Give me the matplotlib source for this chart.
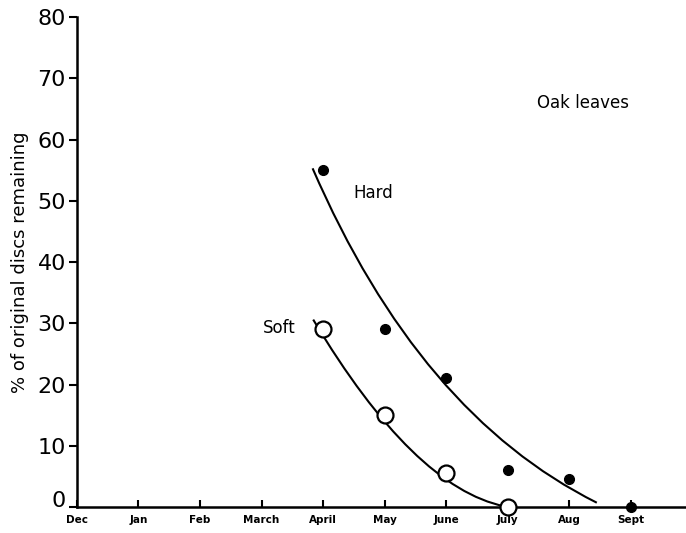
import matplotlib.pyplot as plt
from matplotlib.path import Path
from matplotlib.patches import PathPatch
from matplotlib.transforms import ScaledTranslation

months = ["Dec", "Jan", "Feb", "March", "April", "May", "June", "July", "Aug", "Sept"]

# observed points (month index, % remaining)
hard_x = [4, 5, 6, 7, 8, 9]
hard_y = [55, 29, 21, 6, 4.5, 0]
soft_x = [4, 5, 6, 7]
soft_y = [29, 15, 5.5, 0]

# hand-fitted curves: start, control, end of a quadratic bezier
hard_curve = [(3.83, 55.3), (5.56, 15.16), (8.45, 0.7)]
soft_curve = [(3.84, 30.6), (5.47, 3.2), (6.95, 0.1)]

fig = plt.figure(figsize=(6.86, 5.33), dpi=100)
ax = fig.add_axes([0.1122, 0.0488, 0.8878, 0.9192])

for pts in [hard_curve, soft_curve]:
    path = Path(pts, [Path.MOVETO, Path.CURVE3, Path.CURVE3])
    ax.add_patch(PathPatch(path, fc="none", ec="black", lw=1.5, zorder=2))

ax.plot(hard_x, hard_y, "o", color="black", ms=7, zorder=3, clip_on=False)
ax.plot(soft_x, soft_y, "o", mfc="white", mec="black", mew=1.6, ms=11.5,
        zorder=4, clip_on=False)

ax.text(4.81, 51.3, "Hard", fontsize=12, ha="center", va="center")
ax.text(3.55, 29.2, "Soft", fontsize=12, ha="right", va="center")
ax.text(8.23, 66, "Oak leaves", fontsize=12, ha="center", va="center")

ax.set_xlim(0, 9.9)
ax.set_ylim(0, 80)
ax.set_xticks(range(len(months)))
ax.set_xticklabels(months, fontsize=7.5, fontweight="bold")
ax.set_yticks(range(0, 81, 10))
ax.tick_params(axis="y", direction="out", length=6, width=1.5, labelsize=16, pad=2)
ax.tick_params(axis="x", direction="in", length=5, width=1.5, pad=6)
ax.set_ylabel("% of original discs remaining", fontsize=13, labelpad=6)

for s in ["top", "right"]:
    ax.spines[s].set_visible(False)
for s in ["left", "bottom"]:
    ax.spines[s].set_linewidth(1.8)

# the 0 label sits a little above the axis line
for lbl in ax.get_yticklabels():
    if lbl.get_text() == "0":
        lbl.set_transform(lbl.get_transform() + ScaledTranslation(0, 6 / 72, fig.dpi_scale_trans))

fig.savefig("out.png", dpi=100)
